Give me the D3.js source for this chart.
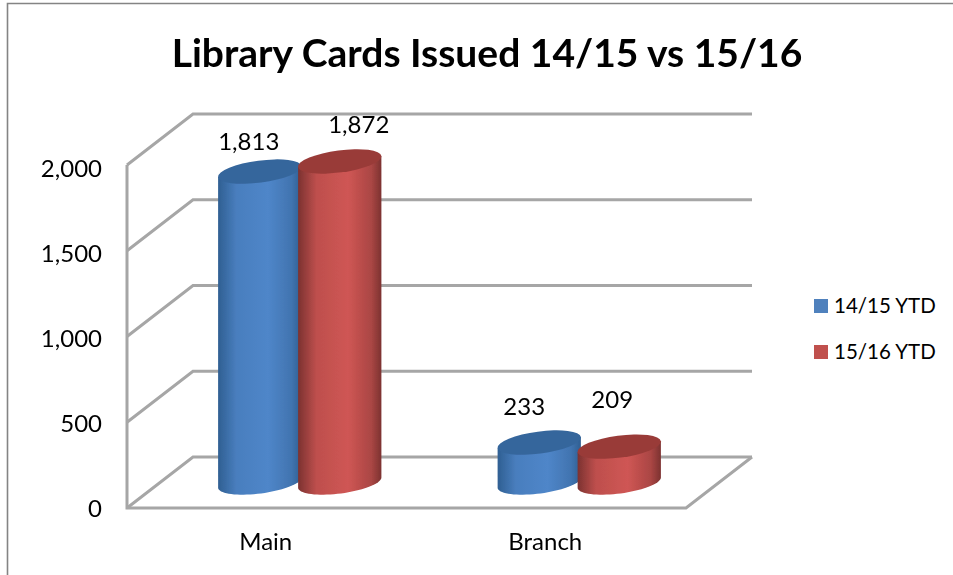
<!DOCTYPE html>
<html><head><meta charset="utf-8">
<script src="https://cdn.jsdelivr.net/npm/d3@7/dist/d3.min.js"></script>
<style>html,body{margin:0;padding:0;background:#fff}svg{display:block}text{font-family:Lato,"Open Sans",sans-serif;fill:#000}</style>
</head><body><script>
const title = "Library Cards Issued 14/15 vs 15/16";
const categories = ["Main", "Branch"];
const seriesNames = ["14/15 YTD", "15/16 YTD"];
const values1415 = [1813, 233];
const values1516 = [1872, 209];
const yTicks = [0, 500, 1000, 1500, 2000];

const W = 953, H = 575;
const front = {x0: 127, x1: 686, y0: 508, y1: 165};
const depth = {dx: 66, dy: -51};
const grid = "#a6a6a6";
const y = d3.scaleLinear().domain([0, 2000]).range([front.y0, front.y1]);
const yLabel = d3.scaleLinear().domain([0, 2000]).range([517, 177]);
const xFront = d3.scaleBand().domain(categories).range([front.x0 - 1, front.x1 - 1]);
const xMid = d3.scaleBand().domain(categories).range([front.x0 + depth.dx / 2, front.x1 + depth.dx / 2]);
const xInner = d3.scalePoint().domain(seriesNames).range([-40, 40]);
const bw = 84, tilt = -7.5, ry = 11;
const t = tilt * Math.PI / 180;
// point on a tilted ellipse outline; a = 0 is the right end, a = 180 the left end, through the front
const rim = (cx, cy, a) => {
  const r = a * Math.PI / 180, px = bw / 2 * Math.cos(r), py = ry * Math.sin(r);
  return [cx + px * Math.cos(t) - py * Math.sin(t), cy + px * Math.sin(t) + py * Math.cos(t)];
};

const svg = d3.select("body").append("svg").attr("width", W).attr("height", H);
const defs = svg.append("defs");
defs.append("filter").attr("id", "soft").append("feGaussianBlur").attr("stdDeviation", 0.5);
const palette = [
  {edge: "#2f5f92", mid: "#4f86c9", cap: "#36669c", flat: "#4f81bd"},
  {edge: "#7c3230", mid: "#cf5654", cap: "#993b39", flat: "#c0504d"}
];
palette.forEach((c, i) => {
  const g = defs.append("linearGradient").attr("id", "g" + i);
  [[0, c.edge], [0.22, d3.interpolateRgb(c.edge, c.mid)(0.8)], [0.6, c.mid], [0.88, d3.interpolateRgb(c.mid, c.edge)(0.45)], [1, c.edge]]
    .forEach(s => g.append("stop").attr("offset", s[0]).attr("stop-color", s[1]));
});

// frame
svg.append("path").attr("d", `M7.5,${H}V3.5H${W}`).attr("fill", "none").attr("stroke", "#848484").attr("stroke-width", 1.6);

// walls, gridlines and floor
const wall = svg.append("g").attr("fill", "none").attr("stroke", grid).attr("stroke-width", 3).attr("filter", "url(#soft)");
wall.selectAll("path.g").data(yTicks).join("path").attr("class", "g")
  .attr("d", d => `M${front.x0},${y(d)}l${depth.dx},${depth.dy}H${front.x1 + depth.dx}`);
wall.append("path").attr("d", `M${front.x0},${front.y1}V${front.y0}H${front.x1}l${depth.dx},${depth.dy}`);

// cylinders
const barData = [];
categories.forEach((c, ci) => {
  barData.push({c, s: seriesNames[0], i: 0, v: values1415[ci]});
  barData.push({c, s: seriesNames[1], i: 1, v: values1516[ci]});
});
const angles = d3.range(0, 181, 5);
const outline = d3.line();
const bars = svg.append("g").attr("filter", "url(#soft)");
barData.forEach(d => {
  const cx = xMid(d.c) + xMid.bandwidth() / 2 + xInner(d.s);
  const base = y(0) + depth.dy / 2, top = base - (y(0) - y(d.v));
  d.cx = cx; d.top = top;
  const pts = angles.map(a => rim(cx, base, a)).concat([rim(cx, top, 180), rim(cx, top, 0)]);
  bars.append("path").attr("fill", `url(#g${d.i})`).attr("d", outline(pts) + "Z");
  bars.append("ellipse").attr("fill", palette[d.i].cap)
    .attr("rx", bw / 2).attr("ry", ry).attr("transform", `translate(${cx},${top}) rotate(${tilt})`);
});

// axis labels
svg.selectAll("text.yt").data(yTicks).join("text").attr("class", "yt")
  .attr("x", 102).attr("y", d => yLabel(d)).attr("text-anchor", "end").attr("font-size", 24)
  .text(d => d3.format(",")(d));
svg.selectAll("text.xt").data(categories).join("text").attr("class", "xt")
  .attr("x", d => xFront(d) + xFront.bandwidth() / 2).attr("y", 550).attr("text-anchor", "middle").attr("font-size", 24)
  .text(d => d);

// data labels, as hand-placed in the source chart
const labelShift = [[-11, -22], [19, -28], [-15, -28], [-7, -39]];
svg.selectAll("text.dl").data(barData).join("text").attr("class", "dl")
  .attr("x", (d, i) => d.cx + labelShift[i][0]).attr("y", (d, i) => d.top + labelShift[i][1])
  .attr("text-anchor", "middle").attr("font-size", 24)
  .text(d => d3.format(",")(d.v));

// title
svg.append("text").attr("x", 487).attr("y", 67).attr("text-anchor", "middle")
  .attr("font-size", 39).attr("font-weight", 700).text(title);

// legend
const lg = svg.selectAll("g.lg").data(seriesNames).join("g").attr("class", "lg")
  .attr("transform", (d, i) => `translate(814,${299 + i * 46})`);
lg.append("rect").attr("width", 14).attr("height", 14).attr("fill", (d, i) => palette[i].flat);
lg.append("text").attr("x", 20).attr("y", 14).attr("font-size", 20.5).text(d => d);
</script></body></html>
